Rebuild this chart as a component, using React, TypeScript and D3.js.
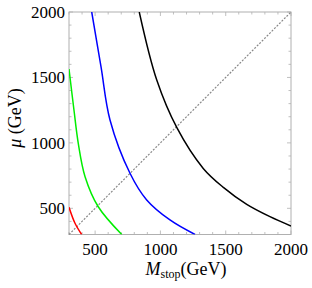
import React, { useEffect, useRef } from "react";
import * as d3 from "d3";

// curves: [M_stop, mu] in GeV
const redCurve: [number, number][] = [
  [300, 508],
  [346, 386],
  [397, 300],
];
const greenCurve: [number, number][] = [
  [300, 1564],
  [338, 1251],
  [371, 997],
  [423, 742],
  [524, 512],
  [704, 300],
];
const blueCurve: [number, number][] = [
  [474, 2000],
  [545, 1582],
  [614, 1175],
  [767, 768],
  [895, 564],
  [1073, 411],
  [1265, 300],
];
const blackCurve: [number, number][] = [
  [838, 2000],
  [972, 1480],
  [1127, 1114],
  [1328, 805],
  [1482, 660],
  [1661, 530],
  [1839, 436],
  [2000, 365],
];
const curveColors = ["#ff0000", "#00ee00", "#0000ff", "#000000"];
const majorTicks = [500, 1000, 1500, 2000];
const minorTicks = d3.range(300, 2001, 100);

const App = () => {
  const ref = useRef<SVGSVGElement>(null);

  useEffect(() => {
    const left = 69, right = 291, top = 12, bottom = 234.5;
    const svg = d3.select(ref.current);
    svg.selectAll("*").remove();

    const x = d3.scaleLinear().domain([300, 2000]).range([left, right]);
    const y = d3.scaleLinear().domain([300, 2000]).range([bottom, top]);

    svg
      .append("defs")
      .append("clipPath")
      .attr("id", "plotclip")
      .append("rect")
      .attr("x", left)
      .attr("y", top)
      .attr("width", right - left)
      .attr("height", bottom - top);

    // frame
    svg
      .append("rect")
      .attr("x", left)
      .attr("y", top)
      .attr("width", right - left)
      .attr("height", bottom - top)
      .attr("fill", "none")
      .attr("stroke", "#b0b0b0")
      .attr("stroke-width", 1);

    // ticks on all four sides, pointing inwards
    const tickLen = (v: number) => (majorTicks.includes(v) ? 4 : 2.5);
    const tg = svg.append("g").attr("stroke", "#b0b0b0").attr("stroke-width", 0.8);
    minorTicks.forEach((v) => {
      const l = tickLen(v);
      tg.append("line").attr("x1", x(v)).attr("x2", x(v)).attr("y1", bottom).attr("y2", bottom - l);
      tg.append("line").attr("x1", x(v)).attr("x2", x(v)).attr("y1", top).attr("y2", top + l);
      tg.append("line").attr("x1", left).attr("x2", left + l).attr("y1", y(v)).attr("y2", y(v));
      tg.append("line").attr("x1", right).attr("x2", right - l).attr("y1", y(v)).attr("y2", y(v));
    });

    const font = "'Liberation Serif', 'Times New Roman', serif";
    svg
      .append("g")
      .selectAll("text")
      .data(majorTicks)
      .join("text")
      .attr("x", (d) => x(d))
      .attr("y", 255)
      .attr("text-anchor", "middle")
      .attr("font-family", font)
      .attr("font-size", 17)
      .text((d) => d);

    svg
      .append("g")
      .selectAll("text")
      .data(majorTicks)
      .join("text")
      .attr("x", left - 4)
      .attr("y", (d) => y(d) + 6)
      .attr("text-anchor", "end")
      .attr("font-family", font)
      .attr("font-size", 17)
      .text((d) => d);

    // diagonal
    svg
      .append("line")
      .attr("x1", x(300))
      .attr("y1", y(300))
      .attr("x2", x(2000))
      .attr("y2", y(2000))
      .attr("stroke", "#888")
      .attr("stroke-width", 1.2)
      .attr("stroke-dasharray", "2,1.5");

    const line = d3
      .line<[number, number]>()
      .x((d) => x(d[0]))
      .y((d) => y(d[1]))
      .curve(d3.curveCatmullRom.alpha(0.5));

    svg
      .append("g")
      .attr("clip-path", "url(#plotclip)")
      .selectAll("path")
      .data([redCurve, greenCurve, blueCurve, blackCurve])
      .join("path")
      .attr("d", (d) => line(d))
      .attr("fill", "none")
      .attr("stroke", (d, i) => curveColors[i])
      .attr("stroke-width", 1.5);

    // axis titles
    const xt = svg
      .append("text")
      .attr("x", 186)
      .attr("y", 275)
      .attr("text-anchor", "middle")
      .attr("font-family", font)
      .attr("font-size", 18);
    xt.append("tspan").attr("font-style", "italic").text("M");
    xt.append("tspan").attr("font-size", 12).attr("dy", 3).text("stop");
    xt.append("tspan").attr("dy", -3).text("(GeV)");

    const yt = svg
      .append("text")
      .attr("transform", "translate(21,118) rotate(-90)")
      .attr("text-anchor", "middle")
      .attr("font-family", font)
      .attr("font-size", 18);
    yt.append("tspan").attr("font-style", "italic").text("μ");
    yt.append("tspan").text(" (GeV)");
  }, []);

  return (
    <svg
      ref={ref}
      width={312}
      height={288}
      style={{ position: "absolute", left: 0, top: 0, background: "#fff" }}
    />
  );
};

export default App;
